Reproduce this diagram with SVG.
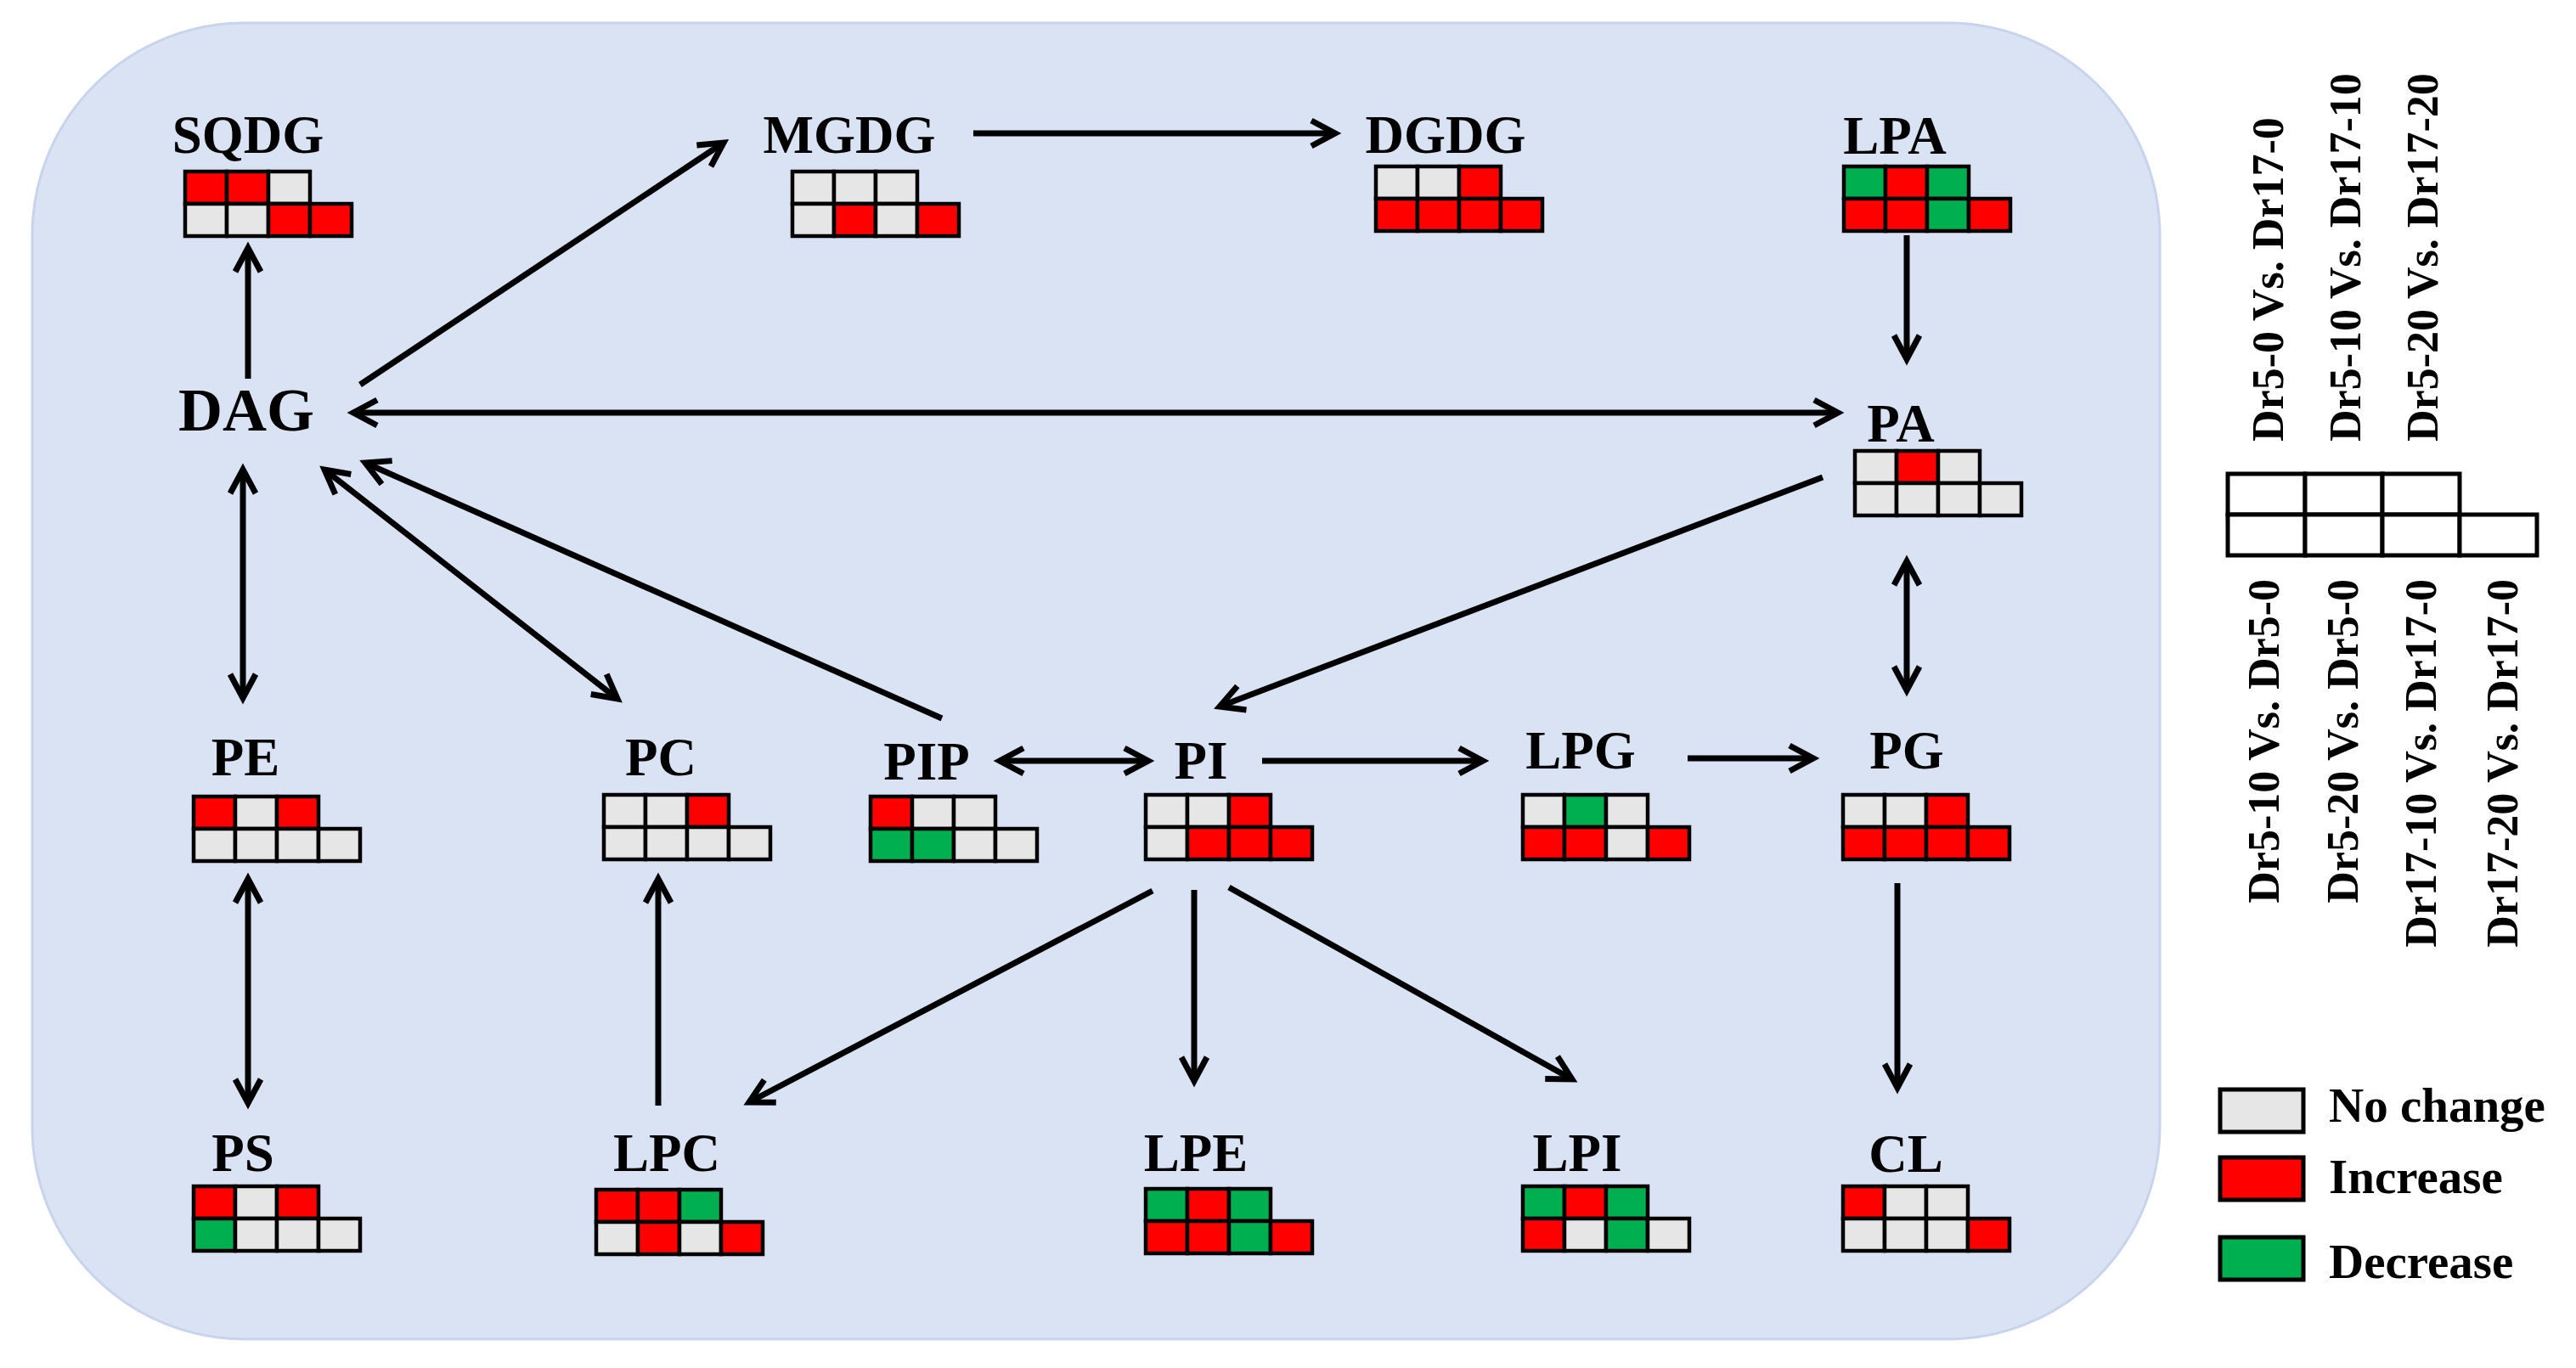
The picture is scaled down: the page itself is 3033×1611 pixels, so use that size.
<svg xmlns="http://www.w3.org/2000/svg" width="3033" height="1611" viewBox="0 0 3033 1611">
<style>
.lbl{font-family:"Liberation Serif","Times New Roman",serif;font-weight:bold;font-size:63px;fill:#000;text-anchor:middle}
.leg{font-family:"Liberation Serif","Times New Roman",serif;font-weight:bold;font-size:52px;fill:#000}
.key{font-family:"Liberation Serif","Times New Roman",serif;font-weight:bold;font-size:57px;fill:#000}
.c rect{stroke:#000;stroke-width:4.5}
.n{fill:#E7E6E6}
.r{fill:#FF0000}
.g{fill:#00B050}
.w{fill:#FFFFFF;stroke:#000;stroke-width:5}
.e line{stroke:#000;stroke-width:7;fill:none}
.one{marker-end:url(#ah)}
.two{marker-start:url(#ah);marker-end:url(#ah)}
</style>
<defs>
<marker id="ah" markerUnits="userSpaceOnUse" orient="auto-start-reverse" markerWidth="70" markerHeight="70" refX="35" refY="35" viewBox="0 0 70 70">
<path d="M7,20 L35,35 L7,50" fill="none" stroke="#000" stroke-width="7"/>
</marker>
</defs>
<rect width="3033" height="1611" fill="#FFFFFF"/>
<rect x="38" y="27" width="2505" height="1550" rx="250" ry="250" fill="#DAE3F3" stroke="#C8D3EC" stroke-width="3"/>

<g id="connectors" class="e">
<line class="one" x1="292" y1="446" x2="292" y2="292"/>
<line class="one" x1="424" y1="453" x2="852" y2="168"/>
<line class="one" x1="1146" y1="157" x2="1572" y2="157"/>
<line class="one" x1="2245" y1="277" x2="2245" y2="423"/>
<line class="two" x1="416" y1="486" x2="2164" y2="486"/>
<line class="one" x1="2146" y1="562" x2="1436" y2="832"/>
<line class="two" x1="2245" y1="661" x2="2245" y2="813"/>
<line class="two" x1="286" y1="553" x2="286" y2="822"/>
<line class="two" x1="382" y1="553" x2="727" y2="823"/>
<line class="one" x1="1109" y1="846" x2="430" y2="545"/>
<line class="two" x1="292" y1="1035" x2="292" y2="1299"/>
<line class="one" x1="775" y1="1302" x2="775" y2="1035"/>
<line class="two" x1="1177" y1="896" x2="1352" y2="896"/>
<line class="one" x1="1486" y1="896" x2="1746" y2="896"/>
<line class="one" x1="1987" y1="893" x2="2135" y2="893"/>
<line class="one" x1="2234" y1="1040" x2="2234" y2="1281"/>
<line class="one" x1="1357" y1="1049" x2="882" y2="1298"/>
<line class="one" x1="1406" y1="1048" x2="1406" y2="1273"/>
<line class="one" x1="1447" y1="1045" x2="1851" y2="1271"/>
</g>

<g id="SQDG">
<text class="lbl" x="292" y="180">SQDG</text>
<g class="c" transform="translate(218,202)">
<rect class="r" x="0" y="0" width="49" height="38"/><rect class="r" x="49" y="0" width="49" height="38"/><rect class="n" x="98" y="0" width="49" height="38"/>
<rect class="n" x="0" y="38" width="49" height="38"/><rect class="n" x="49" y="38" width="49" height="38"/><rect class="r" x="98" y="38" width="49" height="38"/><rect class="r" x="147" y="38" width="49" height="38"/>
</g>
</g>

<g id="MGDG">
<text class="lbl" x="1000" y="180">MGDG</text>
<g class="c" transform="translate(933,202)">
<rect class="n" x="0" y="0" width="49" height="38"/><rect class="n" x="49" y="0" width="49" height="38"/><rect class="n" x="98" y="0" width="49" height="38"/>
<rect class="n" x="0" y="38" width="49" height="38"/><rect class="r" x="49" y="38" width="49" height="38"/><rect class="n" x="98" y="38" width="49" height="38"/><rect class="r" x="147" y="38" width="49" height="38"/>
</g>
</g>

<g id="DGDG">
<text class="lbl" x="1702" y="180">DGDG</text>
<g class="c" transform="translate(1620,196)">
<rect class="n" x="0" y="0" width="49" height="38"/><rect class="n" x="49" y="0" width="49" height="38"/><rect class="r" x="98" y="0" width="49" height="38"/>
<rect class="r" x="0" y="38" width="49" height="38"/><rect class="r" x="49" y="38" width="49" height="38"/><rect class="r" x="98" y="38" width="49" height="38"/><rect class="r" x="147" y="38" width="49" height="38"/>
</g>
</g>

<g id="LPA">
<text class="lbl" x="2231" y="181">LPA</text>
<g class="c" transform="translate(2171,196)">
<rect class="g" x="0" y="0" width="49" height="38"/><rect class="r" x="49" y="0" width="49" height="38"/><rect class="g" x="98" y="0" width="49" height="38"/>
<rect class="r" x="0" y="38" width="49" height="38"/><rect class="r" x="49" y="38" width="49" height="38"/><rect class="g" x="98" y="38" width="49" height="38"/><rect class="r" x="147" y="38" width="49" height="38"/>
</g>
</g>

<g id="DAG">
<text class="lbl" x="290" y="507" style="font-size:72px">DAG</text>
</g>

<g id="PA">
<text class="lbl" x="2238" y="520">PA</text>
<g class="c" transform="translate(2184,531)">
<rect class="n" x="0" y="0" width="49" height="38"/><rect class="r" x="49" y="0" width="49" height="38"/><rect class="n" x="98" y="0" width="49" height="38"/>
<rect class="n" x="0" y="38" width="49" height="38"/><rect class="n" x="49" y="38" width="49" height="38"/><rect class="n" x="98" y="38" width="49" height="38"/><rect class="n" x="147" y="38" width="49" height="38"/>
</g>
</g>

<g id="PE">
<text class="lbl" x="289" y="913">PE</text>
<g class="c" transform="translate(228,938)">
<rect class="r" x="0" y="0" width="49" height="38"/><rect class="n" x="49" y="0" width="49" height="38"/><rect class="r" x="98" y="0" width="49" height="38"/>
<rect class="n" x="0" y="38" width="49" height="38"/><rect class="n" x="49" y="38" width="49" height="38"/><rect class="n" x="98" y="38" width="49" height="38"/><rect class="n" x="147" y="38" width="49" height="38"/>
</g>
</g>

<g id="PC">
<text class="lbl" x="778" y="913">PC</text>
<g class="c" transform="translate(711,936)">
<rect class="n" x="0" y="0" width="49" height="38"/><rect class="n" x="49" y="0" width="49" height="38"/><rect class="r" x="98" y="0" width="49" height="38"/>
<rect class="n" x="0" y="38" width="49" height="38"/><rect class="n" x="49" y="38" width="49" height="38"/><rect class="n" x="98" y="38" width="49" height="38"/><rect class="n" x="147" y="38" width="49" height="38"/>
</g>
</g>

<g id="PIP">
<text class="lbl" x="1091" y="918">PIP</text>
<g class="c" transform="translate(1025,938)">
<rect class="r" x="0" y="0" width="49" height="38"/><rect class="n" x="49" y="0" width="49" height="38"/><rect class="n" x="98" y="0" width="49" height="38"/>
<rect class="g" x="0" y="38" width="49" height="38"/><rect class="g" x="49" y="38" width="49" height="38"/><rect class="n" x="98" y="38" width="49" height="38"/><rect class="n" x="147" y="38" width="49" height="38"/>
</g>
</g>

<g id="PI">
<text class="lbl" x="1414" y="917">PI</text>
<g class="c" transform="translate(1349,936)">
<rect class="n" x="0" y="0" width="49" height="38"/><rect class="n" x="49" y="0" width="49" height="38"/><rect class="r" x="98" y="0" width="49" height="38"/>
<rect class="n" x="0" y="38" width="49" height="38"/><rect class="r" x="49" y="38" width="49" height="38"/><rect class="r" x="98" y="38" width="49" height="38"/><rect class="r" x="147" y="38" width="49" height="38"/>
</g>
</g>

<g id="LPG">
<text class="lbl" x="1861" y="905">LPG</text>
<g class="c" transform="translate(1793,936)">
<rect class="n" x="0" y="0" width="49" height="38"/><rect class="g" x="49" y="0" width="49" height="38"/><rect class="n" x="98" y="0" width="49" height="38"/>
<rect class="r" x="0" y="38" width="49" height="38"/><rect class="r" x="49" y="38" width="49" height="38"/><rect class="n" x="98" y="38" width="49" height="38"/><rect class="r" x="147" y="38" width="49" height="38"/>
</g>
</g>

<g id="PG">
<text class="lbl" x="2245" y="905">PG</text>
<g class="c" transform="translate(2170,936)">
<rect class="n" x="0" y="0" width="49" height="38"/><rect class="n" x="49" y="0" width="49" height="38"/><rect class="r" x="98" y="0" width="49" height="38"/>
<rect class="r" x="0" y="38" width="49" height="38"/><rect class="r" x="49" y="38" width="49" height="38"/><rect class="r" x="98" y="38" width="49" height="38"/><rect class="r" x="147" y="38" width="49" height="38"/>
</g>
</g>

<g id="PS">
<text class="lbl" x="286" y="1379">PS</text>
<g class="c" transform="translate(228,1397)">
<rect class="r" x="0" y="0" width="49" height="38"/><rect class="n" x="49" y="0" width="49" height="38"/><rect class="r" x="98" y="0" width="49" height="38"/>
<rect class="g" x="0" y="38" width="49" height="38"/><rect class="n" x="49" y="38" width="49" height="38"/><rect class="n" x="98" y="38" width="49" height="38"/><rect class="n" x="147" y="38" width="49" height="38"/>
</g>
</g>

<g id="LPC">
<text class="lbl" x="785" y="1379">LPC</text>
<g class="c" transform="translate(702,1401)">
<rect class="r" x="0" y="0" width="49" height="38"/><rect class="r" x="49" y="0" width="49" height="38"/><rect class="g" x="98" y="0" width="49" height="38"/>
<rect class="n" x="0" y="38" width="49" height="38"/><rect class="r" x="49" y="38" width="49" height="38"/><rect class="n" x="98" y="38" width="49" height="38"/><rect class="r" x="147" y="38" width="49" height="38"/>
</g>
</g>

<g id="LPE">
<text class="lbl" x="1408" y="1379">LPE</text>
<g class="c" transform="translate(1349,1400)">
<rect class="g" x="0" y="0" width="49" height="38"/><rect class="r" x="49" y="0" width="49" height="38"/><rect class="g" x="98" y="0" width="49" height="38"/>
<rect class="r" x="0" y="38" width="49" height="38"/><rect class="r" x="49" y="38" width="49" height="38"/><rect class="g" x="98" y="38" width="49" height="38"/><rect class="r" x="147" y="38" width="49" height="38"/>
</g>
</g>

<g id="LPI">
<text class="lbl" x="1857" y="1379">LPI</text>
<g class="c" transform="translate(1793,1397)">
<rect class="g" x="0" y="0" width="49" height="38"/><rect class="r" x="49" y="0" width="49" height="38"/><rect class="g" x="98" y="0" width="49" height="38"/>
<rect class="r" x="0" y="38" width="49" height="38"/><rect class="n" x="49" y="38" width="49" height="38"/><rect class="g" x="98" y="38" width="49" height="38"/><rect class="n" x="147" y="38" width="49" height="38"/>
</g>
</g>

<g id="CL">
<text class="lbl" x="2244" y="1380">CL</text>
<g class="c" transform="translate(2170,1397)">
<rect class="r" x="0" y="0" width="49" height="38"/><rect class="n" x="49" y="0" width="49" height="38"/><rect class="n" x="98" y="0" width="49" height="38"/>
<rect class="n" x="0" y="38" width="49" height="38"/><rect class="n" x="49" y="38" width="49" height="38"/><rect class="n" x="98" y="38" width="49" height="38"/><rect class="r" x="147" y="38" width="49" height="38"/>
</g>
</g>

<g id="legend-grid">
<rect class="w" x="2623" y="558" width="91" height="48"/><rect class="w" x="2714" y="558" width="91" height="48"/><rect class="w" x="2805" y="558" width="91" height="48"/>
<rect class="w" x="2623" y="606" width="91" height="48"/><rect class="w" x="2714" y="606" width="91" height="48"/><rect class="w" x="2805" y="606" width="91" height="48"/><rect class="w" x="2896" y="606" width="91" height="48"/>
<text class="leg" transform="translate(2688,520) rotate(-90)">Dr5-0 Vs. Dr17-0</text>
<text class="leg" transform="translate(2779,520) rotate(-90)">Dr5-10 Vs. Dr17-10</text>
<text class="leg" transform="translate(2870,520) rotate(-90)">Dr5-20 Vs. Dr17-20</text>
<text class="leg" text-anchor="end" transform="translate(2683,682) rotate(-90)">Dr5-10 Vs. Dr5-0</text>
<text class="leg" text-anchor="end" transform="translate(2776,682) rotate(-90)">Dr5-20 Vs. Dr5-0</text>
<text class="leg" text-anchor="end" transform="translate(2868,682) rotate(-90)">Dr17-10 Vs. Dr17-0</text>
<text class="leg" text-anchor="end" transform="translate(2964,682) rotate(-90)">Dr17-20 Vs. Dr17-0</text>
</g>

<g id="legend-key">
<rect x="2614" y="1283" width="98" height="50" fill="#E7E6E6" stroke="#000" stroke-width="5"/>
<rect x="2614" y="1363" width="98" height="50" fill="#FF0000" stroke="#000" stroke-width="5"/>
<rect x="2614" y="1457" width="98" height="50" fill="#00B050" stroke="#000" stroke-width="5"/>
<text class="key" x="2742" y="1321">No change</text>
<text class="key" x="2742" y="1405">Increase</text>
<text class="key" x="2742" y="1505">Decrease</text>
</g>
</svg>
